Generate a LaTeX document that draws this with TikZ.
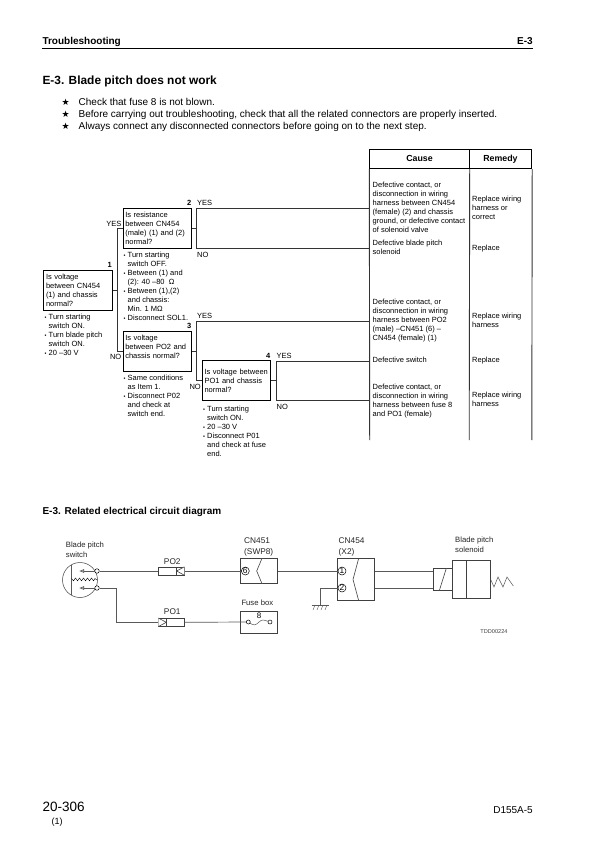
\documentclass[tikz,border=0pt]{standalone}
\usepackage{fontspec}
\usetikzlibrary{arrows.meta}
\setmainfont{Liberation Sans}
\newfontfamily\symfont{DejaVu Sans}
\newcommand{\bul}{\makebox[4pt][l]{\fontsize{5.5}{5.5}\selectfont •}}
\newcommand{\ind}{\hspace*{4pt}}
\begin{document}
\begin{tikzpicture}[
  x=1pt, y=-1pt,
  qbox/.style={draw, line width=0.9pt, minimum width=68.5pt, minimum height=40pt, inner xsep=2.25pt, inner ysep=2pt, text width=64pt, align=left, font=\fontsize{7.5}{9}\selectfont},
  lab/.style={inner sep=0pt, font=\fontsize{7.5}{9}\selectfont},
  txt/.style={lab, anchor=north west, align=left},
  num/.style={inner sep=0pt, font=\bfseries\fontsize{7.5}{9}\selectfont},
  head/.style={draw, line width=0.9pt, minimum height=19.2pt, inner sep=0pt, text height=6.4pt, text depth=1.9pt, font=\bfseries\fontsize{8.8}{9}\selectfont},
  flow/.style={line width=0.9pt, black!80},
  wire/.style={line width=0.7pt, black!65},
  part/.style={draw, line width=0.6pt, black!75, fill=white},
  term/.style={circle, draw, line width=0.5pt, fill=white, minimum size=4.5pt, inner sep=0pt},
  pin/.style={circle, draw, line width=0.5pt, fill=white, minimum size=8pt, inner sep=0pt, font=\fontsize{8.3}{8}\selectfont},
  cir/.style={inner sep=0pt, font=\fontsize{8.3}{10.5}\selectfont, text=black!85},
  small/.style={inner sep=0pt, align=left, font=\fontsize{7.7}{10}\selectfont, text=black!85}
]
\useasboundingbox (0,0) rectangle (595,842);
\fill[white] (0,0) rectangle (595,842);
% page head
\node[inner sep=0pt, anchor=base west, font=\bfseries\fontsize{10}{11}\selectfont] (pagehead) at (42.3,45) {Troubleshooting};
\node[inner sep=0pt, anchor=base east, font=\bfseries\fontsize{10}{11}\selectfont] (pagesec) at (533,45) {E-3};
\coordinate (ruleA) at (42,48.3);
\coordinate (ruleB) at (533,48.3);
\draw[line width=0.9pt] (ruleA) -- (ruleB);
\node[inner sep=0pt, anchor=base west, font=\bfseries\fontsize{11.9}{14}\selectfont] (title) at (42.3,85) {E-3. Blade pitch does not work};
\foreach \y/\t [count=\i] in {106/Check that fuse 8 is not blown.,
  118/{Before carrying out troubleshooting, check that all the related connectors are properly inserted.},
  129.8/Always connect any disconnected connectors before going on to the next step.}{
  \node[inner sep=0pt, anchor=base, font=\symfont\fontsize{9}{10}\selectfont] (star\i) at (65.7,\y) {★};
  \node[inner sep=0pt, anchor=base west, font=\fontsize{10}{11}\selectfont] (rule\i) at (78.5,\y) {\t};
}
% table
\node[head, minimum width=99.5pt] (cause) at (419.5,159) {Cause};
\node[head, minimum width=62.7pt] (remedy) at (500.4,159) {Remedy};
\coordinate (tabA) at (369.7,440);
\coordinate (tabB) at (469.2,440);
\coordinate (tabC) at (531.8,440);
\draw[flow] (cause.south west) -- (tabA);
\draw[flow] (cause.south east) -- (tabB);
\draw[flow] (remedy.south east) -- (tabC);
% checks
\node[qbox] (q1) at (78,290) {Is voltage\\between CN454\\(1) and chassis\\normal?};
\node[qbox] (q2) at (157.3,228.3) {Is resistance\\between CN454\\(male) (1) and (2)\\normal?};
\node[qbox] (q3) at (157.3,351) {Is voltage\\between PO2 and\\chassis normal?\\\mbox{}};
\node[qbox] (q4) at (236.5,380.8) {Is voltage between\\PO1 and chassis\\normal?};
\node[num, anchor=east] (n1) at (112,264.5) {1};
\node[num, anchor=east] (n2) at (191.5,203) {2};
\node[num, anchor=east] (n3) at (191.5,326) {3};
\node[num, anchor=east] (n4) at (270.5,356) {4};
% junctions
\coordinate (j1a) at (117.3,228.3);
\coordinate (j1b) at (117.3,351);
\coordinate (j1) at (117.3,290);
\coordinate (j2) at (196.7,228.3);
\coordinate (j2a) at (196.7,208.3);
\coordinate (j2b) at (196.7,248.3);
\coordinate (j3) at (196.7,351);
\coordinate (j3a) at (196.7,321);
\coordinate (j3b) at (196.7,380.8);
\coordinate (j4) at (276,380.8);
\coordinate (j4a) at (276,361);
\coordinate (j4b) at (276,400.8);
\draw[flow] (q1.east) -- (j1);
\draw[flow] (q2.west) -- (j1a) -- (j1b) -- (q3.west);
\draw[flow] (q2.east) -- (j2);
\draw[flow] (cause.south west |- j2a) -- (j2a) -- (j2b) -- (cause.south west |- j2b);
\draw[flow] (q3.east) -- (j3);
\draw[flow] (cause.south west |- j3a) -- (j3a) -- (j3b) -- (q4.west);
\draw[flow] (q4.east) -- (j4);
\draw[flow] (cause.south west |- j4a) -- (j4a) -- (j4b) -- (cause.south west |- j4b);
% yes / no
\node[lab, anchor=east] (y1) at (121.5,224) {YES};
\node[lab, anchor=east] (no1) at (121.5,357) {NO};
\node[lab, anchor=west] (y2) at (197,203) {YES};
\node[lab, anchor=west] (no2) at (197,254.5) {NO};
\node[lab, anchor=west] (y3) at (197,316) {YES};
\node[lab, anchor=east] (no3) at (201,387) {NO};
\node[lab, anchor=west] (y4) at (276.5,355.5) {YES};
\node[lab, anchor=west] (no4) at (276.5,407) {NO};
% notes
\node[txt] (note1) at (44.5,314) {\bul Turn starting\\\ind switch ON.\\\bul Turn blade pitch\\\ind switch ON.\\\bul 20 --30 V};
\node[txt] (note2) at (123.5,252) {\bul Turn starting\\\ind switch OFF.\\\bul Between (1) and\\\ind (2): 40 --80\ \ Ω\\\bul Between (1),(2)\\\ind and chassis:\\\ind Min. 1 MΩ\\\bul Disconnect SOL1.};
\node[txt] (note3) at (123.5,374.5) {\bul Same conditions\\\ind as Item 1.\\\bul Disconnect P02\\\ind and check at\\\ind switch end.};
\node[txt] (note4) at (203,406) {\bul Turn starting\\\ind switch ON.\\\bul 20 --30 V\\\bul Disconnect P01\\\ind and check at fuse\\\ind end.};
% causes
\node[txt] (cs1) at (372.5,182) {Defective contact, or\\disconnection in wiring\\harness between CN454\\(female) (2) and chassis\\ground, or defective contact\\of solenoid valve};
\node[txt] (cs2) at (372.5,239.7) {Defective blade pitch\\solenoid};
\node[txt] (cs3) at (372.5,299) {Defective contact, or\\disconnection in wiring\\harness between PO2\\(male) --CN451 (6) --\\CN454 (female) (1)};
\node[txt] (cs4) at (372.5,356.7) {Defective switch};
\node[txt] (cs5) at (372.5,383.4) {Defective contact, or\\disconnection in wiring\\harness between fuse 8\\and PO1 (female)};
\node[txt] (rm1) at (472,195.7) {Replace wiring\\harness or\\correct};
\node[txt] (rm2) at (472,244.7) {Replace};
\node[txt] (rm3) at (472,312.4) {Replace wiring\\harness};
\node[txt] (rm4) at (472,356.7) {Replace};
\node[txt] (rm5) at (472,392) {Replace wiring\\harness};
% circuit
\node[inner sep=0pt, anchor=base west, font=\bfseries\fontsize{10}{10}\selectfont] (cirtitle) at (42.3,514.5) {E-3. Related electrical circuit diagram};
\node[small, anchor=north west] (swlab) at (65.7,541.5) {Blade pitch\\switch};
\node[small, anchor=north west] (sollab) at (455,537) {Blade pitch\\solenoid};
\node[cir, anchor=west] (cn451a) at (244,540.7) {CN451};
\node[cir, anchor=west] (cn451b) at (244,552) {(SWP8)};
\node[cir, anchor=west] (cn454a) at (338.5,540.7) {CN454};
\node[cir, anchor=west] (cn454b) at (338.5,552) {(X2)};
\node[cir] (po2lab) at (172.3,561.5) {PO2};
\node[cir] (po1lab) at (172.3,611.5) {PO1};
\node[small, anchor=west] (fuselab) at (241.3,603) {Fuse box};
\node[inner sep=0pt, font=\fontsize{5.6}{6}\selectfont, text=black!75] (tdd) at (494,632) {TDD00224};
% switch
\node[circle, draw, line width=0.5pt, black!75, minimum size=35pt, inner sep=0pt] (sw) at (80,580) {};
\node[term] (swa) at (97,571) {};
\node[term] (swb) at (97,588) {};
\coordinate (swin1) at (71.3,565);
\coordinate (swin2) at (71.3,595);
\draw[wire] (swin1) -- (swin2);
\draw[wire, line width=0.4pt, black] (71.5,578.5) -- (73.5,580.8) -- (75.5,578) -- (77.5,580.8) -- (79.5,578) -- (81.5,580.8) -- (83.5,578) -- (85.5,580.8) -- (87.5,578) -- (89.5,580.8) -- (91.5,578) -- (93.5,580.8) -- (95,578.5) -- (97,580);
\coordinate (swtipa) at (79,571);
\coordinate (swtipb) at (79,588);
\draw[wire, -{Latex[open,length=5pt,width=4pt]}] (swa) -- (swtipa);
\draw[wire, -{Latex[open,length=5pt,width=4pt]}] (swb) -- (swtipb);
% harness PO2
\node[part, minimum width=26pt, minimum height=8.4pt, inner sep=0pt] (po2) at (171.3,571) {};
\draw[part] (176.7,566.8) -- (176.7,575.2);
\draw[part] (184.3,566.8) -- (176.7,571) -- (184.3,575.2);
% harness PO1
\node[part, minimum width=26pt, minimum height=8.6pt, inner sep=0pt] (po1) at (171.3,622.3) {};
\draw[part] (166.3,618) -- (166.3,626.6);
\draw[part] (158.3,618) -- (166.3,622.3) -- (158.3,626.6);
% connectors
\node[part, minimum width=37pt, minimum height=25.4pt, inner sep=0pt] (cn451) at (259.2,571) {};
\draw[part] (262,558.3) -- (256.7,571) -- (262,583.7);
\node[pin] (p6) at (245.3,571) {6};
\node[part, minimum width=37pt, minimum height=42.4pt, inner sep=0pt] (cn454) at (355.8,579.5) {};
\draw[part] (358.7,558.3) -- (353,579.5) -- (358.7,600.7);
\node[pin] (p1) at (342,571) {1};
\node[pin] (p2) at (342,588) {2};
\node[part, minimum width=37pt, minimum height=22.3pt, inner sep=0pt] (fuse) at (259.2,622.2) {};
\node[term, minimum size=4pt] (fa) at (248.3,622) {};
\node[term, minimum size=4pt] (fb) at (270,622) {};
\draw[wire, line width=0.5pt] (fa) .. controls (254,626) and (256,625) .. (259,622) .. controls (262,619) and (264,620) .. (fb);
\node[inner sep=0pt, font=\fontsize{8}{8}\selectfont] (f8) at (259,616) {8};
% ground
\coordinate (gndk) at (320.3,588);
\coordinate (gnd) at (320.3,605);
\coordinate (gndl) at (311.7,605);
\coordinate (gndr) at (328.7,605);
\draw[wire] (p2) -- (gndk) -- (gnd);
\draw[wire] (gndl) -- (gndr);
\foreach \x in {315,319,323,327}{\draw[wire, line width=0.4pt] (\x,605) -- (\x-2,610);}
% solenoid
\node[part, minimum width=19pt, minimum height=22.4pt, inner sep=0pt] (solv) at (442.8,579.5) {};
\draw[part] (439.3,590.7) -- (446.3,568.3);
\node[part, minimum width=38pt, minimum height=38pt, inner sep=0pt] (sol) at (471.3,579.3) {};
\draw[part] (466.3,560.3) -- (466.3,598.3);
\draw[wire, line width=0.5pt] (sol.east) -- (494,587) -- (498,577) -- (503,587) -- (507,577) -- (513.3,586);
% wires
\draw[wire] (swa) -- (po2.west);
\draw[wire] (po2.east) -- (p6);
\draw[wire] (cn451.east) -- (p1);
\coordinate (poknee) at (116.7,588);
\draw[wire] (swb) -- (poknee) -- (poknee |- po1.west) -- (po1.west);
\draw[wire] (po1.east) -- (fa);
\draw[wire] (cn454.east |- p1) -- (solv.west |- p1);
\draw[wire] (cn454.east |- p2) -- (solv.west |- p2);
% page foot
\node[inner sep=0pt, anchor=base west, font=\fontsize{13.5}{15}\selectfont] (pageno) at (42.3,811.7) {20-306};
\node[inner sep=0pt, anchor=base west, font=\fontsize{9}{10}\selectfont] (rev) at (51.5,824) {(1)};
\node[inner sep=0pt, anchor=base east, font=\fontsize{10}{11}\selectfont] (model) at (533,813) {D155A-5};
\end{tikzpicture}
\end{document}
